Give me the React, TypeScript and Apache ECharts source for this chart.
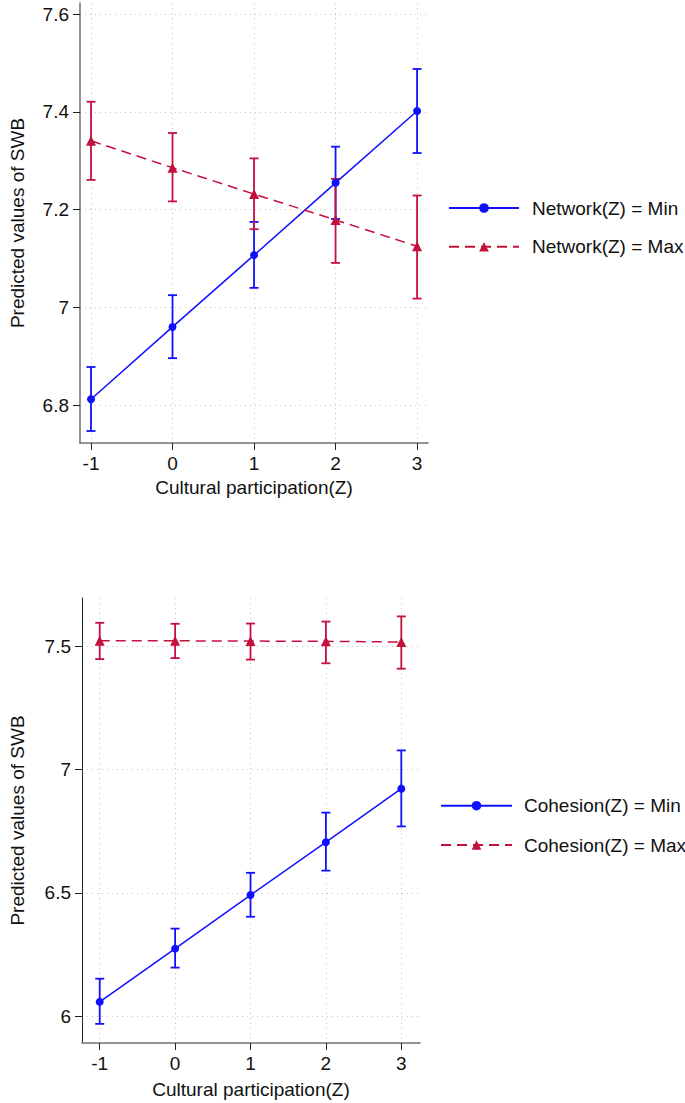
import React, { useEffect, useRef } from "react";
import * as echarts from "echarts";

const xTicks = [-1, 0, 1, 2, 3];
const yTicksTop = [6.8, 7, 7.2, 7.4, 7.6];
const yTicksBottom = [6, 6.5, 7, 7.5];

// Top panel: Network(Z)
const netMinMean = [6.812, 6.96, 7.107, 7.255, 7.402];
const netMinLo = [6.747, 6.896, 7.04, 7.181, 7.316];
const netMinHi = [6.878, 7.025, 7.175, 7.329, 7.488];
const netMaxMean = [7.341, 7.286, 7.232, 7.179, 7.125];
const netMaxLo = [7.261, 7.217, 7.16, 7.091, 7.018];
const netMaxHi = [7.421, 7.357, 7.305, 7.263, 7.229];

// Bottom panel: Cohesion(Z)
const cohMinMean = [6.058, 6.274, 6.491, 6.705, 6.922];
const cohMinLo = [5.969, 6.197, 6.403, 6.59, 6.769];
const cohMinHi = [6.152, 6.355, 6.581, 6.825, 7.077];
const cohMaxMean = [7.521, 7.521, 7.52, 7.519, 7.516];
const cohMaxLo = [7.447, 7.451, 7.445, 7.43, 7.408];
const cohMaxHi = [7.594, 7.59, 7.591, 7.599, 7.62];

const seriesNames = [
  "Network(Z) = Min",
  "Network(Z) = Max",
  "Cohesion(Z) = Min",
  "Cohesion(Z) = Max",
];

const BLUE = "#1010ff";
const RED = "#c4103c";
const FONT = "'Liberation Sans', Arial, sans-serif";
const FS = 19;

function errorBar(name: string, lo: number[], hi: number[], color: string, axisIndex: number) {
  return {
    type: "custom",
    name: name + " CI",
    xAxisIndex: axisIndex,
    yAxisIndex: axisIndex,
    data: xTicks.map((x, i) => [x, lo[i], hi[i]]),
    encode: { x: 0, y: [1, 2] },
    z: 2,
    renderItem: (params: any, api: any) => {
      const x = api.value(0);
      const a = api.coord([x, api.value(1)]);
      const b = api.coord([x, api.value(2)]);
      const w = 4.5;
      const style = { stroke: color, lineWidth: 1.8, fill: "none" };
      return {
        type: "group",
        children: [
          { type: "line", shape: { x1: a[0], y1: a[1], x2: b[0], y2: b[1] }, style },
          { type: "line", shape: { x1: a[0] - w, y1: a[1], x2: a[0] + w, y2: a[1] }, style },
          { type: "line", shape: { x1: b[0] - w, y1: b[1], x2: b[0] + w, y2: b[1] }, style },
        ],
      };
    },
  };
}

function lineSeries(name: string, values: number[], color: string, dashed: boolean, axisIndex: number) {
  return {
    type: "line",
    name,
    xAxisIndex: axisIndex,
    yAxisIndex: axisIndex,
    data: xTicks.map((x, i) => [x, values[i]]),
    symbol: dashed ? "triangle" : "circle",
    symbolSize: dashed ? 10 : 8,
    itemStyle: { color },
    lineStyle: { color, width: 1.5, type: dashed ? [10, 6] : "solid" },
    z: 3,
  };
}

function xAxis(gridIndex: number, min: number, max: number, nameGap: number) {
  return {
    type: "value",
    gridIndex,
    min,
    max,
    name: "Cultural participation(Z)",
    nameLocation: "middle",
    nameGap,
    nameTextStyle: { fontFamily: FONT, fontSize: FS, color: "#111" },
    axisLine: { show: true, onZero: false, lineStyle: { color: "#707070", width: 1.5 } },
    axisTick: { show: true, length: 7, customValues: xTicks, lineStyle: { color: "#222", width: 1 } },
    axisLabel: { customValues: xTicks, margin: 11, fontFamily: FONT, fontSize: FS, color: "#111" },
    splitLine: { show: true, lineStyle: { color: "#c4c4c4", width: 1, type: [1, 4] } },
  };
}

function yAxis(gridIndex: number, min: number, max: number, ticks: number[], nameGap: number, lineColor: string, lineWidth: number) {
  return {
    type: "value",
    gridIndex,
    min,
    max,
    name: "Predicted values of SWB",
    nameLocation: "middle",
    nameGap,
    nameTextStyle: { fontFamily: FONT, fontSize: FS, color: "#111" },
    axisLine: { show: true, onZero: false, lineStyle: { color: lineColor, width: lineWidth } },
    axisTick: { show: true, length: 7, customValues: ticks, lineStyle: { color: "#222", width: 1 } },
    axisLabel: { customValues: ticks, margin: 11, fontFamily: FONT, fontSize: FS, color: "#111" },
    splitLine: { show: true, lineStyle: { color: "#c4c4c4", width: 1, type: [1, 4] } },
  };
}

function legend(names: string[], left: number, top: number, itemWidth: number, gap: number, pad: number) {
  return {
    orient: "vertical",
    left,
    top,
    data: names,
    itemWidth,
    itemHeight: 12,
    itemGap: gap,
    selectedMode: false,
    textStyle: { fontFamily: FONT, fontSize: FS, color: "#111", lineHeight: 20, padding: [0, 0, 0, pad] },
  };
}

export default function App() {
  const ref = useRef<HTMLDivElement>(null);
  useEffect(() => {
    if (!ref.current) return;
    const chart = echarts.init(ref.current, undefined, { renderer: "svg" });
    chart.setOption({
      animation: false,
      backgroundColor: "#ffffff",
      grid: [
        { left: 79, top: 3, width: 349, height: 440 },
        { left: 76, top: 598, width: 344, height: 445 },
      ],
      xAxis: [xAxis(0, -1.135, 3.134, 35), xAxis(1, -1.235, 3.248, 37)],
      yAxis: [
        yAxis(0, 6.7224, 7.6231, yTicksTop, 53, "#707070", 1.5),
        yAxis(1, 5.8915, 7.6945, yTicksBottom, 55, "#222", 1),
      ],
      legend: [
        legend([seriesNames[0], seriesNames[1]], 443, 193, 70, 18.7, 8),
        legend([seriesNames[2], seriesNames[3]], 435, 790.7, 71, 19.3, 7),
      ],
      series: [
        errorBar(seriesNames[0], netMinLo, netMinHi, BLUE, 0),
        lineSeries(seriesNames[0], netMinMean, BLUE, false, 0),
        errorBar(seriesNames[1], netMaxLo, netMaxHi, RED, 0),
        lineSeries(seriesNames[1], netMaxMean, RED, true, 0),
        errorBar(seriesNames[2], cohMinLo, cohMinHi, BLUE, 1),
        lineSeries(seriesNames[2], cohMinMean, BLUE, false, 1),
        errorBar(seriesNames[3], cohMaxLo, cohMaxHi, RED, 1),
        lineSeries(seriesNames[3], cohMaxMean, RED, true, 1),
      ],
    });
    return () => chart.dispose();
  }, []);
  return (
    <div
      ref={ref}
      style={{ position: "fixed", left: 0, top: 0, width: 685, height: 1103, background: "#fff" }}
    />
  );
}
